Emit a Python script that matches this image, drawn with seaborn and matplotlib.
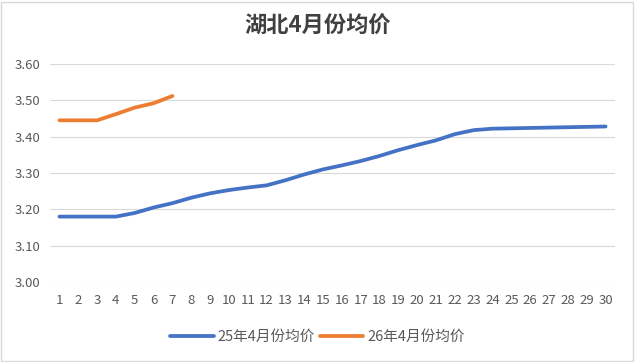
import numpy as np
import pandas as pd
import seaborn as sns
import matplotlib.pyplot as plt
from matplotlib.patches import Rectangle
from matplotlib.lines import Line2D

days = list(range(1, 31))
price_25 = [3.180, 3.180, 3.180, 3.180, 3.190, 3.205, 3.217, 3.232, 3.244, 3.253,
            3.260, 3.266, 3.280, 3.296, 3.310, 3.321, 3.333, 3.347, 3.363, 3.377,
            3.390, 3.407, 3.418, 3.422, 3.423, 3.424, 3.425, 3.426, 3.427, 3.428]
days_26 = [1, 2, 3, 4, 5, 6, 7]
price_26 = [3.445, 3.445, 3.445, 3.462, 3.480, 3.492, 3.512]
y_ticks = [3.00, 3.10, 3.20, 3.30, 3.40, 3.50, 3.60]

sns.set_theme(style='white')
plt.rcParams['font.family'] = ['Noto Sans CJK SC', 'DejaVu Sans']

fig = plt.figure(figsize=(6.35, 3.62), dpi=100)
ax = fig.add_axes([50 / 635, 80 / 362, 565 / 635, 218 / 362])

df = pd.concat([
    pd.DataFrame({'day': days, 'price': price_25, 'series': '25年4月份均价'}),
    pd.DataFrame({'day': days_26, 'price': price_26, 'series': '26年4月份均价'}),
])
sns.lineplot(data=df, x='day', y='price', hue='series', ax=ax,
             palette=['#4472C4', '#ED7D31'], linewidth=2.7, legend=False)

ax.set_xlim(0.5, 30.5)
ax.set_ylim(3.0, 3.6)
ax.set_xticks(days)
ax.set_yticks(y_ticks)
ax.set_yticklabels([f'{v:.2f}' for v in y_ticks])
ax.tick_params(axis='both', labelsize=9.5, colors='#595959', length=0)
ax.tick_params(axis='x', pad=9)
ax.tick_params(axis='y', pad=7)
ax.grid(axis='y', color='#D9D9D9', linewidth=0.8)
ax.set_axisbelow(True)
for s in ax.spines.values():
    s.set_visible(False)
ax.set_xlabel('')
ax.set_ylabel('')

fig.suptitle('湖北4月份均价', x=0.5, y=0.96, fontsize=16, fontweight='bold', color='#404040')

handles = [Line2D([], [], color='#4472C4', lw=2.7), Line2D([], [], color='#ED7D31', lw=2.7)]
fig.legend(handles, ['25年4月份均价', '26年4月份均价'], loc='center', bbox_to_anchor=(0.5, 25 / 362),
           ncol=2, frameon=False, fontsize=10.5, labelcolor='#595959', handlelength=3.0,
           columnspacing=0.3, handletextpad=0.3)

fig.patches.append(Rectangle((1 / 635, 1 / 362), 632 / 635, 359 / 362, transform=fig.transFigure,
                             fill=False, edgecolor='#D9D9D9', linewidth=1))

fig.savefig('out.png', dpi=100)
